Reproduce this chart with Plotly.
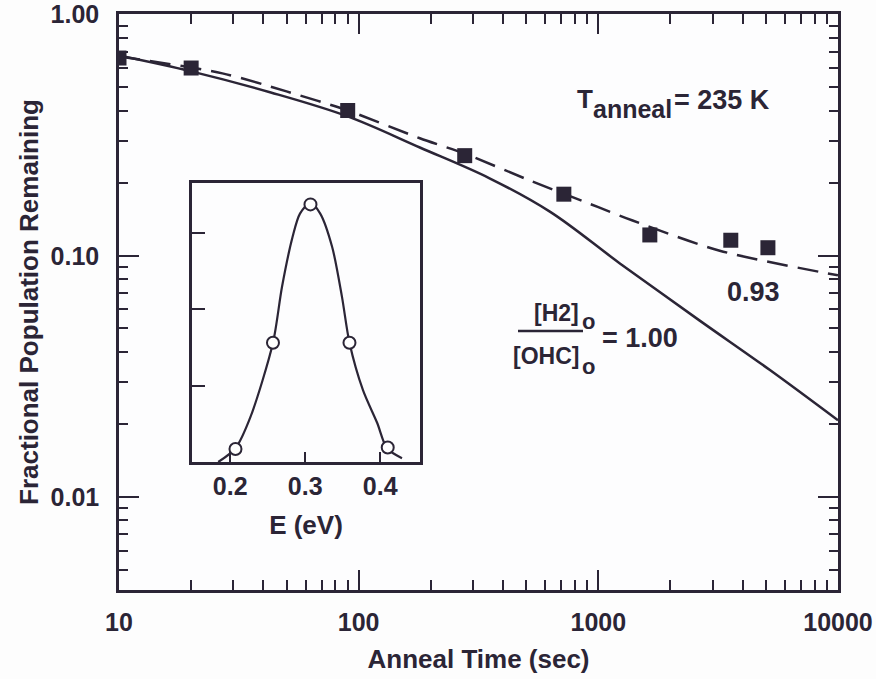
import plotly.graph_objects as go

# ---- main panel data ----
square_t = [10, 20, 90, 277, 718, 1640, 3570, 5100]
square_f = [0.66, 0.60, 0.40, 0.26, 0.18, 0.122, 0.116, 0.108]

solid_t = [10, 20, 43, 90, 180, 350, 630, 1230, 2640, 5200, 10000]
solid_f = [0.676, 0.581, 0.475, 0.378, 0.281, 0.21, 0.152, 0.093, 0.054, 0.0336, 0.0208]

dashed_t = [10, 27, 50, 90, 180, 277, 519, 1000, 1390, 3210, 10000]
dashed_f = [0.67, 0.57, 0.48, 0.40, 0.307, 0.265, 0.205, 0.159, 0.14, 0.105, 0.083]

# ---- inset data ----
inset_circle_E = [0.207, 0.257, 0.307, 0.359, 0.41]
inset_circle_v = [0.17, 1.56, 3.37, 1.56, 0.19]
inset_curve_E = [0.184, 0.207, 0.227, 0.257, 0.269, 0.283, 0.293, 0.307, 0.320,
                 0.336, 0.349, 0.359, 0.377, 0.396, 0.409, 0.429]
inset_curve_v = [0.0, 0.18, 0.59, 1.56, 2.29, 2.94, 3.25, 3.39, 3.25,
                 2.81, 2.16, 1.56, 0.94, 0.51, 0.18, 0.05]

INK = "#2b2536"
BG = "#fdfdfd"
PLOT_BG = "#fdfdfe"
FONT = "Liberation Sans"

X_RANGE = [1, 4]
Y_RANGE = [-2.385, 0.002]
IX_RANGE = [0.149, 0.453]
IY_RANGE = [0, 3.65]

fig = go.Figure()

fig.add_trace(go.Scatter(x=solid_t, y=solid_f, mode="lines",
                         line=dict(color=INK, width=2.5, shape="spline", smoothing=1.0),
                         showlegend=False, hoverinfo="skip"))
fig.add_trace(go.Scatter(x=dashed_t, y=dashed_f, mode="lines",
                         line=dict(color=INK, width=2.5, dash="21px,10px", shape="spline", smoothing=0.8),
                         showlegend=False, hoverinfo="skip"))
fig.add_trace(go.Scatter(x=square_t, y=square_f, mode="markers",
                         marker=dict(symbol="square", size=15, color=INK), showlegend=False))

fig.add_trace(go.Scatter(x=inset_curve_E, y=inset_curve_v, mode="lines", xaxis="x2", yaxis="y2",
                         line=dict(color=INK, width=2.2, shape="spline", smoothing=0.8),
                         showlegend=False, hoverinfo="skip"))
fig.add_trace(go.Scatter(x=inset_circle_E, y=inset_circle_v, mode="markers", xaxis="x2", yaxis="y2",
                         marker=dict(symbol="circle", size=12, color="white", line=dict(color=INK, width=2)),
                         showlegend=False))

tickfont = dict(family=FONT, size=25, color=INK, weight="bold")
titlefont = dict(family=FONT, size=26, color=INK, weight="bold")

fig.update_layout(
    width=876, height=679,
    margin=dict(l=119, r=38, t=14, b=89),
    paper_bgcolor=BG, plot_bgcolor=PLOT_BG,
    xaxis=dict(type="log", range=X_RANGE, tickmode="linear", tick0=0, dtick=1, tickformat="d",
               ticks="inside", ticklen=20, tickwidth=2, tickcolor=INK,
               minor=dict(ticks="inside", ticklen=10, tickwidth=2, tickcolor=INK, showgrid=False),
               showline=True, linewidth=2.5, linecolor=INK, mirror="ticks",
               showgrid=False, zeroline=False,
               tickfont=tickfont, ticklabelstandoff=8, automargin=False,
               title=dict(text="Anneal Time (sec)", font=titlefont, standoff=16)),
    yaxis=dict(type="log", range=Y_RANGE, tickmode="linear", tick0=0, dtick=1, tickformat=".2f",
               ticks="inside", ticklen=20, tickwidth=2, tickcolor=INK,
               minor=dict(ticks="inside", ticklen=9, tickwidth=2, tickcolor=INK, showgrid=False),
               showline=True, linewidth=2.5, linecolor=INK, mirror="ticks",
               showgrid=False, zeroline=False,
               tickfont=tickfont, ticklabelstandoff=12, automargin=False,
               title=dict(text="Fractional Population Remaining", font=titlefont, standoff=5)),
    xaxis2=dict(domain=[0.1015, 0.4186], anchor="y2", range=IX_RANGE, tickmode="linear",
                tick0=0.2, dtick=0.1, tickformat=".1f",
                ticks="inside", ticklen=10, tickwidth=2, tickcolor=INK,
                showline=True, linewidth=2.5, linecolor=INK, mirror=True, showgrid=False, zeroline=False,
                tickfont=tickfont, automargin=False,
                title=dict(text="E (eV)", font=titlefont, standoff=18)),
    yaxis2=dict(domain=[0.2222, 0.7066], anchor="x2", range=IY_RANGE, tickmode="linear",
                tick0=0, dtick=1, showticklabels=False,
                ticks="inside", ticklen=13, tickwidth=2, tickcolor=INK, automargin=False,
                showline=True, linewidth=2.5, linecolor=INK, mirror=True, showgrid=False, zeroline=False),
    font=dict(family=FONT, color=INK),
)


def px2paper(px, py):
    return (px - 119) / 719, (590 - py) / 576


def label(text, px, py, anchor="center", size=26):
    xp, yp = px2paper(px, py)
    fig.add_annotation(xref="paper", yref="paper", x=xp, y=yp, text=text, showarrow=False,
                       xanchor=anchor, yanchor="middle",
                       font=dict(family=FONT, size=size, color=INK, weight="bold"))


label("T", 575, 99, "left")
label("anneal", 591, 109, "left", 25)
label("= 235 K", 672, 100, "left", 27)
label("0.93", 753, 292, "center", 27)
label("[H2]", 581, 313, "right", 23)
label("o", 580, 321, "left", 22)
label("[OHC]", 581, 356, "right", 23)
label("o", 580, 366, "left", 22)
label("= 1.00", 600, 338, "left", 27)
lx0, ly = px2paper(518, 331)
lx1, _ = px2paper(583, 331)
fig.add_shape(type="line", xref="paper", yref="paper", x0=lx0, x1=lx1, y0=ly, y1=ly,
              line=dict(color=INK, width=2.5))

fig.write_html("out.html", config={"displayModeBar": False},
               post_script="document.body.style.margin='0px';")
